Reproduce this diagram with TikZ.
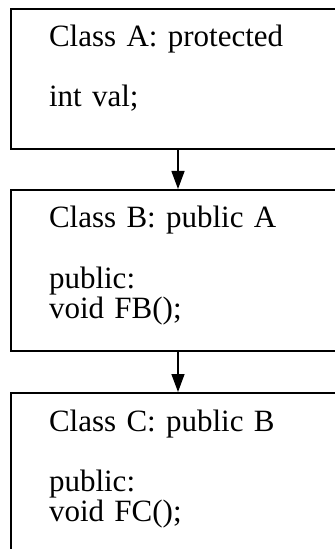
\documentclass[tikz,border=0pt]{standalone}
\usepackage{fontspec}
\setmainfont{Liberation Serif}
\usetikzlibrary{arrows.meta,positioning}
\tikzset{
  cls/.style={
    draw,
    line width=1pt,
    rectangle,
    align=left,
    text width=129pt,
    inner xsep=19pt,
    inner ysep=0pt,
    text height=19pt,
    font=\fontsize{15.5pt}{15pt}\selectfont,
  },
  inh/.style={-{Triangle[length=9pt, width=6.5pt]}, line width=0.7pt},
}

\begin{document}
\begin{tikzpicture}[node distance=19.5pt]
  \useasboundingbox (0,0) rectangle (167.5pt,-274.5pt);

  \node[cls, text depth=51pt, anchor=north west] (clsA) at (5pt,-4pt)
    {Class A: protected\\[15pt]int val;};
  \node[cls, text depth=61.5pt, below=of clsA] (clsB)
    {Class B: public A\\[15pt]public:\\void FB();};
  \node[cls, text depth=75pt, below=20pt of clsB] (clsC)
    {Class C: public B\\[15pt]public:\\void FC();};

  \draw[inh] (clsA) -- (clsB);
  \draw[inh] (clsB) -- (clsC);
\end{tikzpicture}
\end{document}
